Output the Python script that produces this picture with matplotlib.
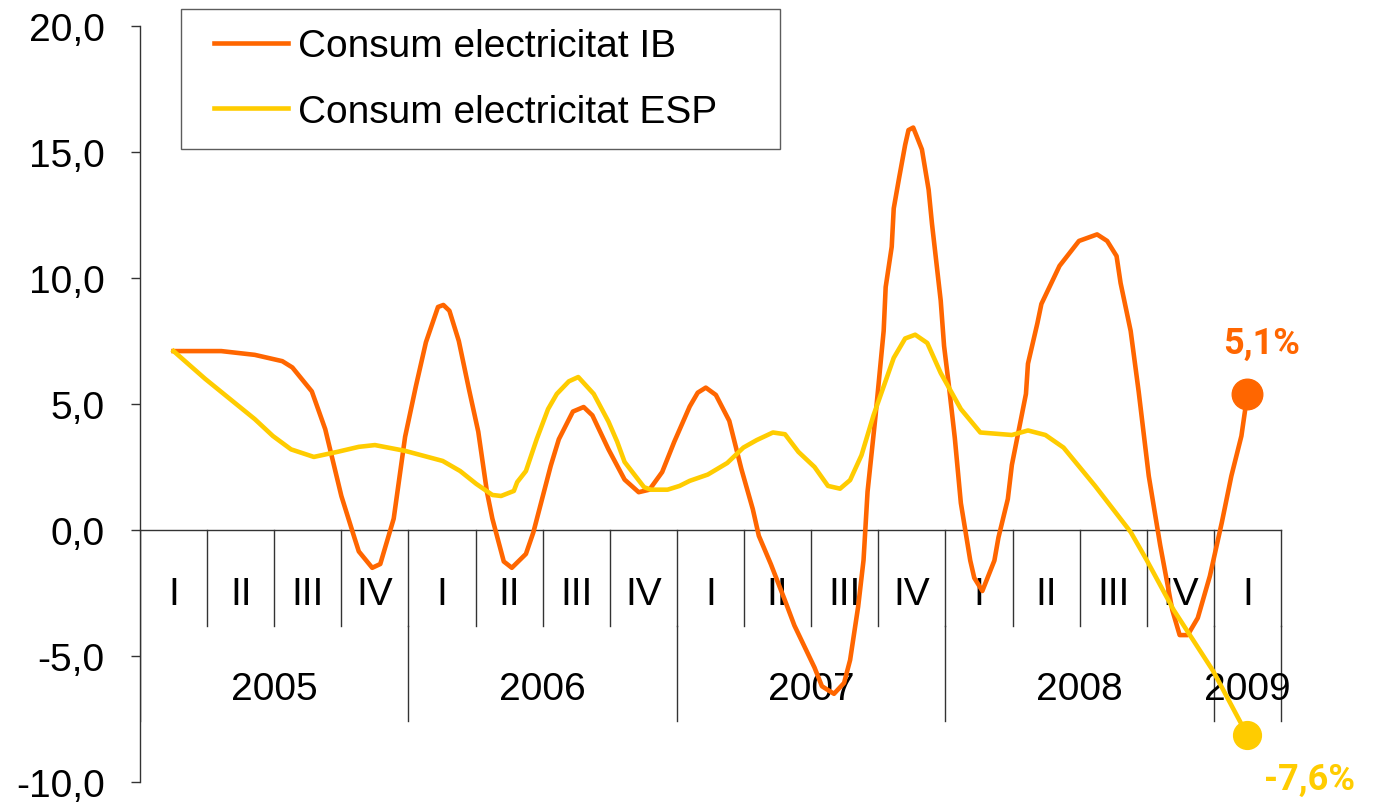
import matplotlib
matplotlib.use("Agg")
import matplotlib.pyplot as plt
from matplotlib import font_manager
from matplotlib.lines import Line2D
from matplotlib.legend_handler import HandlerLine2D

# quarters and years on the category axis
quarters = ["I", "II", "III", "IV"] * 4 + ["I"]
years = ["2005", "2006", "2007", "2008", "2009"]
year_len = [4, 4, 4, 4, 1]

# Consum electricitat IB (time in quarters since 2005 I, % growth)
ib_t = [0.0, 0.71, 1.21, 1.62, 1.77, 2.06, 2.26, 2.50, 2.70, 2.76, 2.96, 3.08, 3.28, 3.45, 3.61,
        3.76, 3.94, 4.02, 4.11, 4.25, 4.40, 4.54, 4.67, 4.75, 4.92, 5.04, 5.25, 5.36, 5.62, 5.74,
        5.95, 6.11, 6.24, 6.48, 6.72, 6.93, 7.09, 7.28, 7.46, 7.69, 7.81, 7.93, 8.08, 8.28, 8.46,
        8.63, 8.72, 8.90, 9.11, 9.25, 9.55, 9.66, 9.84, 9.99, 10.08, 10.20, 10.28, 10.34, 10.46, 10.58,
        10.61, 10.70, 10.73, 10.81, 10.90, 10.95, 11.02, 11.07, 11.15, 11.25, 11.30, 11.43, 11.48, 11.55, 11.64,
        11.73, 11.87, 11.93, 12.05, 12.23, 12.29, 12.43, 12.49, 12.70, 12.73, 12.87, 12.93, 13.20, 13.49, 13.76,
        13.91, 14.05, 14.11, 14.26, 14.38, 14.53, 14.70, 14.88, 14.99, 15.11, 15.26, 15.44, 15.62, 15.76, 15.91,
        16.0]
ib_v = [7.1, 7.1, 6.95, 6.7, 6.45, 5.5, 4.0, 1.35, -0.35, -0.85, -1.5, -1.35, 0.45, 3.7, 5.7,
        7.45, 8.85, 8.93, 8.7, 7.5, 5.6, 3.9, 1.5, 0.45, -1.25, -1.5, -0.95, -0.1, 2.55, 3.6,
        4.7, 4.88, 4.55, 3.2, 2.0, 1.5, 1.6, 2.3, 3.5, 4.9, 5.45, 5.65, 5.36, 4.33, 2.42,
        0.83, -0.23, -1.36, -2.8, -3.79, -5.46, -6.2, -6.5, -6.07, -5.16, -3.04, -1.2, 1.52, 4.56, 7.9,
        9.64, 11.24, 12.76, 13.97, 15.28, 15.87, 15.97, 15.64, 15.1, 13.5, 12.15, 9.1, 7.3, 5.77, 3.65,
        1.07, -1.21, -1.9, -2.42, -1.21, -0.3, 1.23, 2.58, 5.4, 6.6, 8.2, 8.97, 10.48, 11.47, 11.73,
        11.47, 10.87, 9.8, 7.9, 5.48, 2.14, -0.6, -3.17, -4.17, -4.17, -3.49, -1.83, 0.32, 2.14, 3.73,
        5.4]

# Consum electricitat ESP
esp_t = [0.0, 0.47, 1.21, 1.48, 1.75, 2.09, 2.44, 2.76, 3.0, 3.45, 4.01, 4.27, 4.51, 4.75, 4.88,
         5.07, 5.12, 5.25, 5.41, 5.58, 5.71, 5.89, 6.03, 6.26, 6.48, 6.61, 6.72, 7.01, 7.11, 7.36,
         7.54, 7.69, 7.96, 8.25, 8.49, 8.69, 8.93, 9.11, 9.31, 9.55, 9.75, 9.93, 10.08, 10.25, 10.43,
         10.73, 10.90, 11.05, 11.23, 11.43, 11.73, 12.02, 12.49, 12.73, 12.99, 13.26, 13.73, 14.02, 14.26, 14.50,
         14.90, 15.49, 16.0]
esp_v = [7.1, 6.0, 4.4, 3.73, 3.2, 2.9, 3.1, 3.3, 3.37, 3.14, 2.74, 2.34, 1.83, 1.39, 1.35,
         1.55, 1.9, 2.34, 3.6, 4.8, 5.4, 5.9, 6.07, 5.4, 4.3, 3.5, 2.7, 1.7, 1.6, 1.6,
         1.75, 1.95, 2.2, 2.66, 3.27, 3.57, 3.87, 3.8, 3.1, 2.5, 1.75, 1.64, 1.98, 2.97, 4.56,
         6.83, 7.6, 7.75, 7.42, 6.23, 4.8, 3.87, 3.77, 3.95, 3.77, 3.27, 1.75, 0.75, -0.08, -1.2,
         -3.17, -5.6, -8.15]

ib_label = "5,1%"
esp_label = "-7,6%"

ORANGE = "#FF6600"
YELLOW = "#FFCC00"
FS = 28

# pick a narrow font if there is one
names = set(f.name for f in font_manager.fontManager.ttflist)
main_font = "DejaVu Sans"
for cand in ["Liberation Sans Narrow", "DejaVu Sans Condensed", "Liberation Sans"]:
    if cand in names:
        main_font = cand
        break
plt.rcParams["font.family"] = [main_font, "DejaVu Sans"]

W, H = 1373, 803
fig = plt.figure(figsize=(W / 100, H / 100), dpi=100)
ax = fig.add_axes([140 / W, 1 - 783 / H, (1281 - 140) / W, (783 - 27) / H])
ax.set_xlim(-0.5, 16.5)
ax.set_ylim(-10, 20)

for s in ["top", "right", "bottom"]:
    ax.spines[s].set_visible(False)
ax.spines["left"].set_color("#333333")
ax.spines["left"].set_linewidth(1.0)

ax.set_yticks([-10, -5, 0, 5, 10, 15, 20])
ax.set_yticklabels([("%.1f" % v).replace(".", ",") for v in [-10, -5, 0, 5, 10, 15, 20]])
ax.tick_params(axis="y", direction="out", length=6.5, width=1, color="#333333",
               labelsize=FS, pad=19)
ax.set_xticks([])

# zero line and category separators
ax.plot([-0.5, 16.5], [0, 0], color="#333333", lw=1.0, zorder=1, clip_on=False)
q_low = (531 - 627) / 25.2
y_low = (531 - 722) / 25.2
for k in range(1, 18):
    ax.plot([k - 0.5, k - 0.5], [0, q_low], color="#333333", lw=1.0, zorder=1, clip_on=False)
pos = 0
for n in year_len:
    pos += n
    ax.plot([pos - 0.5, pos - 0.5], [q_low, y_low], color="#333333", lw=1.0, zorder=1, clip_on=False)
ax.plot([-0.5, -0.5], [0, y_low], color="#333333", lw=1.0, zorder=1)

for k, q in enumerate(quarters):
    ax.text(k, (531 - 595) / 25.2, q, ha="center", va="center", fontsize=FS, zorder=1)
pos = 0
for yr, n in zip(years, year_len):
    ax.text(pos + (n - 1) / 2, (531 - 690) / 25.2, yr, ha="center", va="center",
            fontsize=FS, zorder=1)
    pos += n

ax.plot(ib_t, ib_v, color=ORANGE, lw=3.3, label="Consum electricitat IB", zorder=3)
ax.plot(esp_t, esp_v, color=YELLOW, lw=3.3, label="Consum electricitat ESP", zorder=4)
ax.plot(ib_t[-1], ib_v[-1], "o", color=ORANGE, ms=22, zorder=5, clip_on=False)
ax.plot(esp_t[-1], esp_v[-1], "o", color=YELLOW, ms=20, zorder=5, clip_on=False)

ax.annotate(ib_label, (ib_t[-1], ib_v[-1]), xytext=(10, 37), textcoords="offset points",
            ha="center", va="center", color=ORANGE, fontsize=26, fontweight="bold",
            family=["Roboto", "DejaVu Sans"], annotation_clip=False)
ax.annotate(esp_label, (esp_t[-1], esp_v[-1]), xytext=(45, -31), textcoords="offset points",
            ha="center", va="center", color=YELLOW, fontsize=26, fontweight="bold",
            family=["Roboto", "DejaVu Sans"], annotation_clip=False)

leg = ax.legend(loc="upper left", bbox_to_anchor=(181 / W, 1 - 148 / H, 599 / W, 138 / H),
                bbox_transform=fig.transFigure, mode="expand", borderaxespad=0,
                fontsize=FS, frameon=True, fancybox=False, handlelength=2.25,
                handletextpad=0.26, borderpad=0.5, labelspacing=0.76,
                handler_map={Line2D: HandlerLine2D(xpad=0.35)})
leg.get_frame().set_edgecolor("#333333")
leg.get_frame().set_linewidth(1.0)

fig.savefig("out.png", dpi=100)
